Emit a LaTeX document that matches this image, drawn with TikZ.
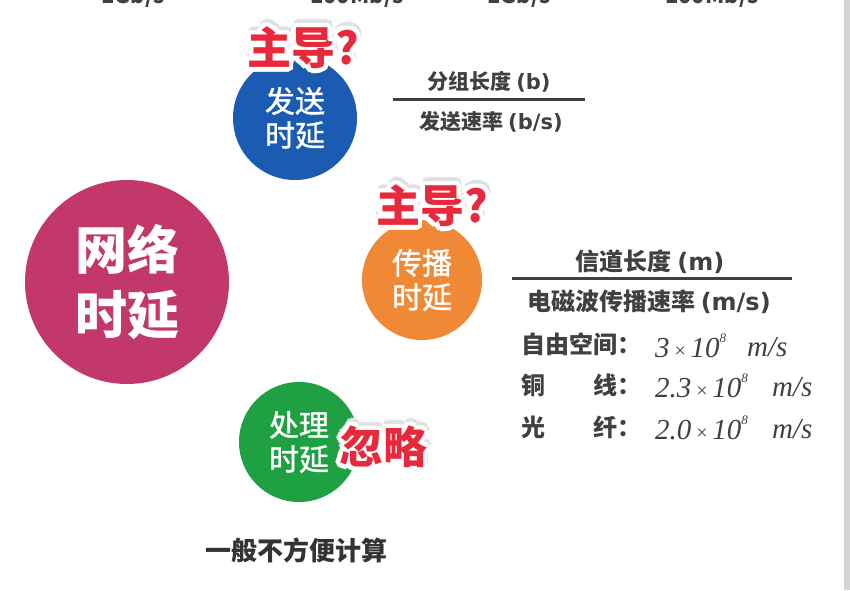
\documentclass[tikz,border=0pt]{standalone}
\usepackage{fontspec}
\setmainfont{Noto Sans CJK SC}
\newfontfamily\tms{Liberation Serif}
\newfontfamily\lat{DejaVu Sans}
\newfontfamily\medfont[FakeBold=1.2]{Noto Sans CJK SC}
\usetikzlibrary{calc}

\definecolor{netred}{HTML}{C3386A}
\definecolor{sendblue}{HTML}{1B5CB2}
\definecolor{proporange}{HTML}{EF8936}
\definecolor{procgreen}{HTML}{1FA043}
\definecolor{tagred}{HTML}{E8293B}
\definecolor{txtgray}{HTML}{404040}
\definecolor{edgegray}{HTML}{D4D4D4}

% red sticker label: soft shadow, white halo, red text
\newcommand\redtag[3]{%
  \foreach \a in {0,45,...,315}
    \node[tag,text=black!12] at ($(#2)+(1pt,4pt)+(\a:4pt)$) {#3};
  \foreach \a in {0,30,...,330}
    \node[tag,text=white] at ($(#2)+(\a:4.5pt)$) {#3};
  \node[tag,text=tagred] (#1) at (#2) {#3};
}
\newcommand\speed[1]{{\tms\itshape #1\,{\upshape\fontsize{20}{20}\selectfont ×}\,10\raisebox{1.15ex}{\fontsize{13}{13}\selectfont 8}}}

\begin{document}
\begin{tikzpicture}[x=1pt,y=-1pt,
  ball/.style={circle,inner sep=0pt,align=center,text=white,font=\medfont\fontsize{30}{34}\selectfont},
  tag/.style={inner sep=0pt,font=\bfseries\fontsize{44}{44}\selectfont},
  frac/.style={inner sep=0pt,text=txtgray,font=\bfseries\fontsize{21}{25}\selectfont},
  fracb/.style={inner sep=0pt,text=txtgray,font=\bfseries\fontsize{24}{28}\selectfont},
  rate/.style={inner sep=0pt,anchor=west,text=txtgray,font=\fontsize{29}{32}\selectfont},
  top/.style={inner sep=0pt,anchor=base,text=txtgray,font=\bfseries\fontsize{22}{22}\selectfont}]
\clip (0,0) rectangle (850,590);
\fill[white] (0,0) rectangle (850,590);
\fill[edgegray] (844,0) rectangle (850,590);

% cut-off speeds along the top
\node[top] (s1) at (133,3) {1Gb/s};
\node[top] (s2) at (357,3) {100Mb/s};
\node[top] (s3) at (519,3) {1Gb/s};
\node[top] (s4) at (712,3) {100Mb/s};

% the four delays
\node[ball,fill=netred,minimum size=204pt,font=\bfseries\fontsize{52}{65}\selectfont] (net) at (127,282) {网络\\时延};
\node[ball,fill=sendblue,minimum size=124pt] (send) at (295,118) {发送\\时延};
\node[ball,fill=proporange,minimum size=120pt] (prop) at (422,280) {传播\\时延};
\node[ball,fill=procgreen,minimum size=120pt] (proc) at (299,442) {处理\\时延};

\redtag{t1}{303,48}{主导?}
\redtag{t2}{432,206}{主导?}
\redtag{t3}{383,447}{忽略}

% transmission delay
\node[frac] (f1n) at (489,82) {分组长度 {\lat\bfseries (b)}};
\node[frac] (f1d) at (491,122) {发送速率 {\lat\bfseries (b/s)}};
\coordinate (f1l) at (393,99);
\coordinate (f1r) at (585,99);
\draw[txtgray,line width=3pt] (f1l) -- (f1r);

% propagation delay
\node[fracb] (f2n) at (650,262) {信道长度 {\lat\bfseries (m)}};
\node[fracb] (f2d) at (649,302) {电磁波传播速率 {\lat\bfseries (m/s)}};
\coordinate (f2l) at (512,278);
\coordinate (f2r) at (792,278);
\draw[txtgray,line width=3pt] (f2l) -- (f2r);

\node[fracb,anchor=west] (r1) at (521,344) {自由空间：};
\node[fracb,anchor=west] (r2) at (521,385) {\hbox to 120pt{铜\hfill 线：}};
\node[fracb,anchor=west] (r3) at (521,427) {\hbox to 120pt{光\hfill 纤：}};
\node[rate] (v1) at (655,346) {\speed{3}};
\node[rate] (v2) at (655,386) {\speed{2.3}};
\node[rate] (v3) at (655,428) {\speed{2.0}};
\node[rate] (u1) at (747,347) {{\tms\itshape m/s}};
\node[rate] (u2) at (772,387) {{\tms\itshape m/s}};
\node[rate] (u3) at (772,429) {{\tms\itshape m/s}};

% processing delay
\node[frac,font=\bfseries\fontsize{26}{30}\selectfont,text=black!80] (note) at (296,550) {一般不方便计算};
\end{tikzpicture}
\end{document}
